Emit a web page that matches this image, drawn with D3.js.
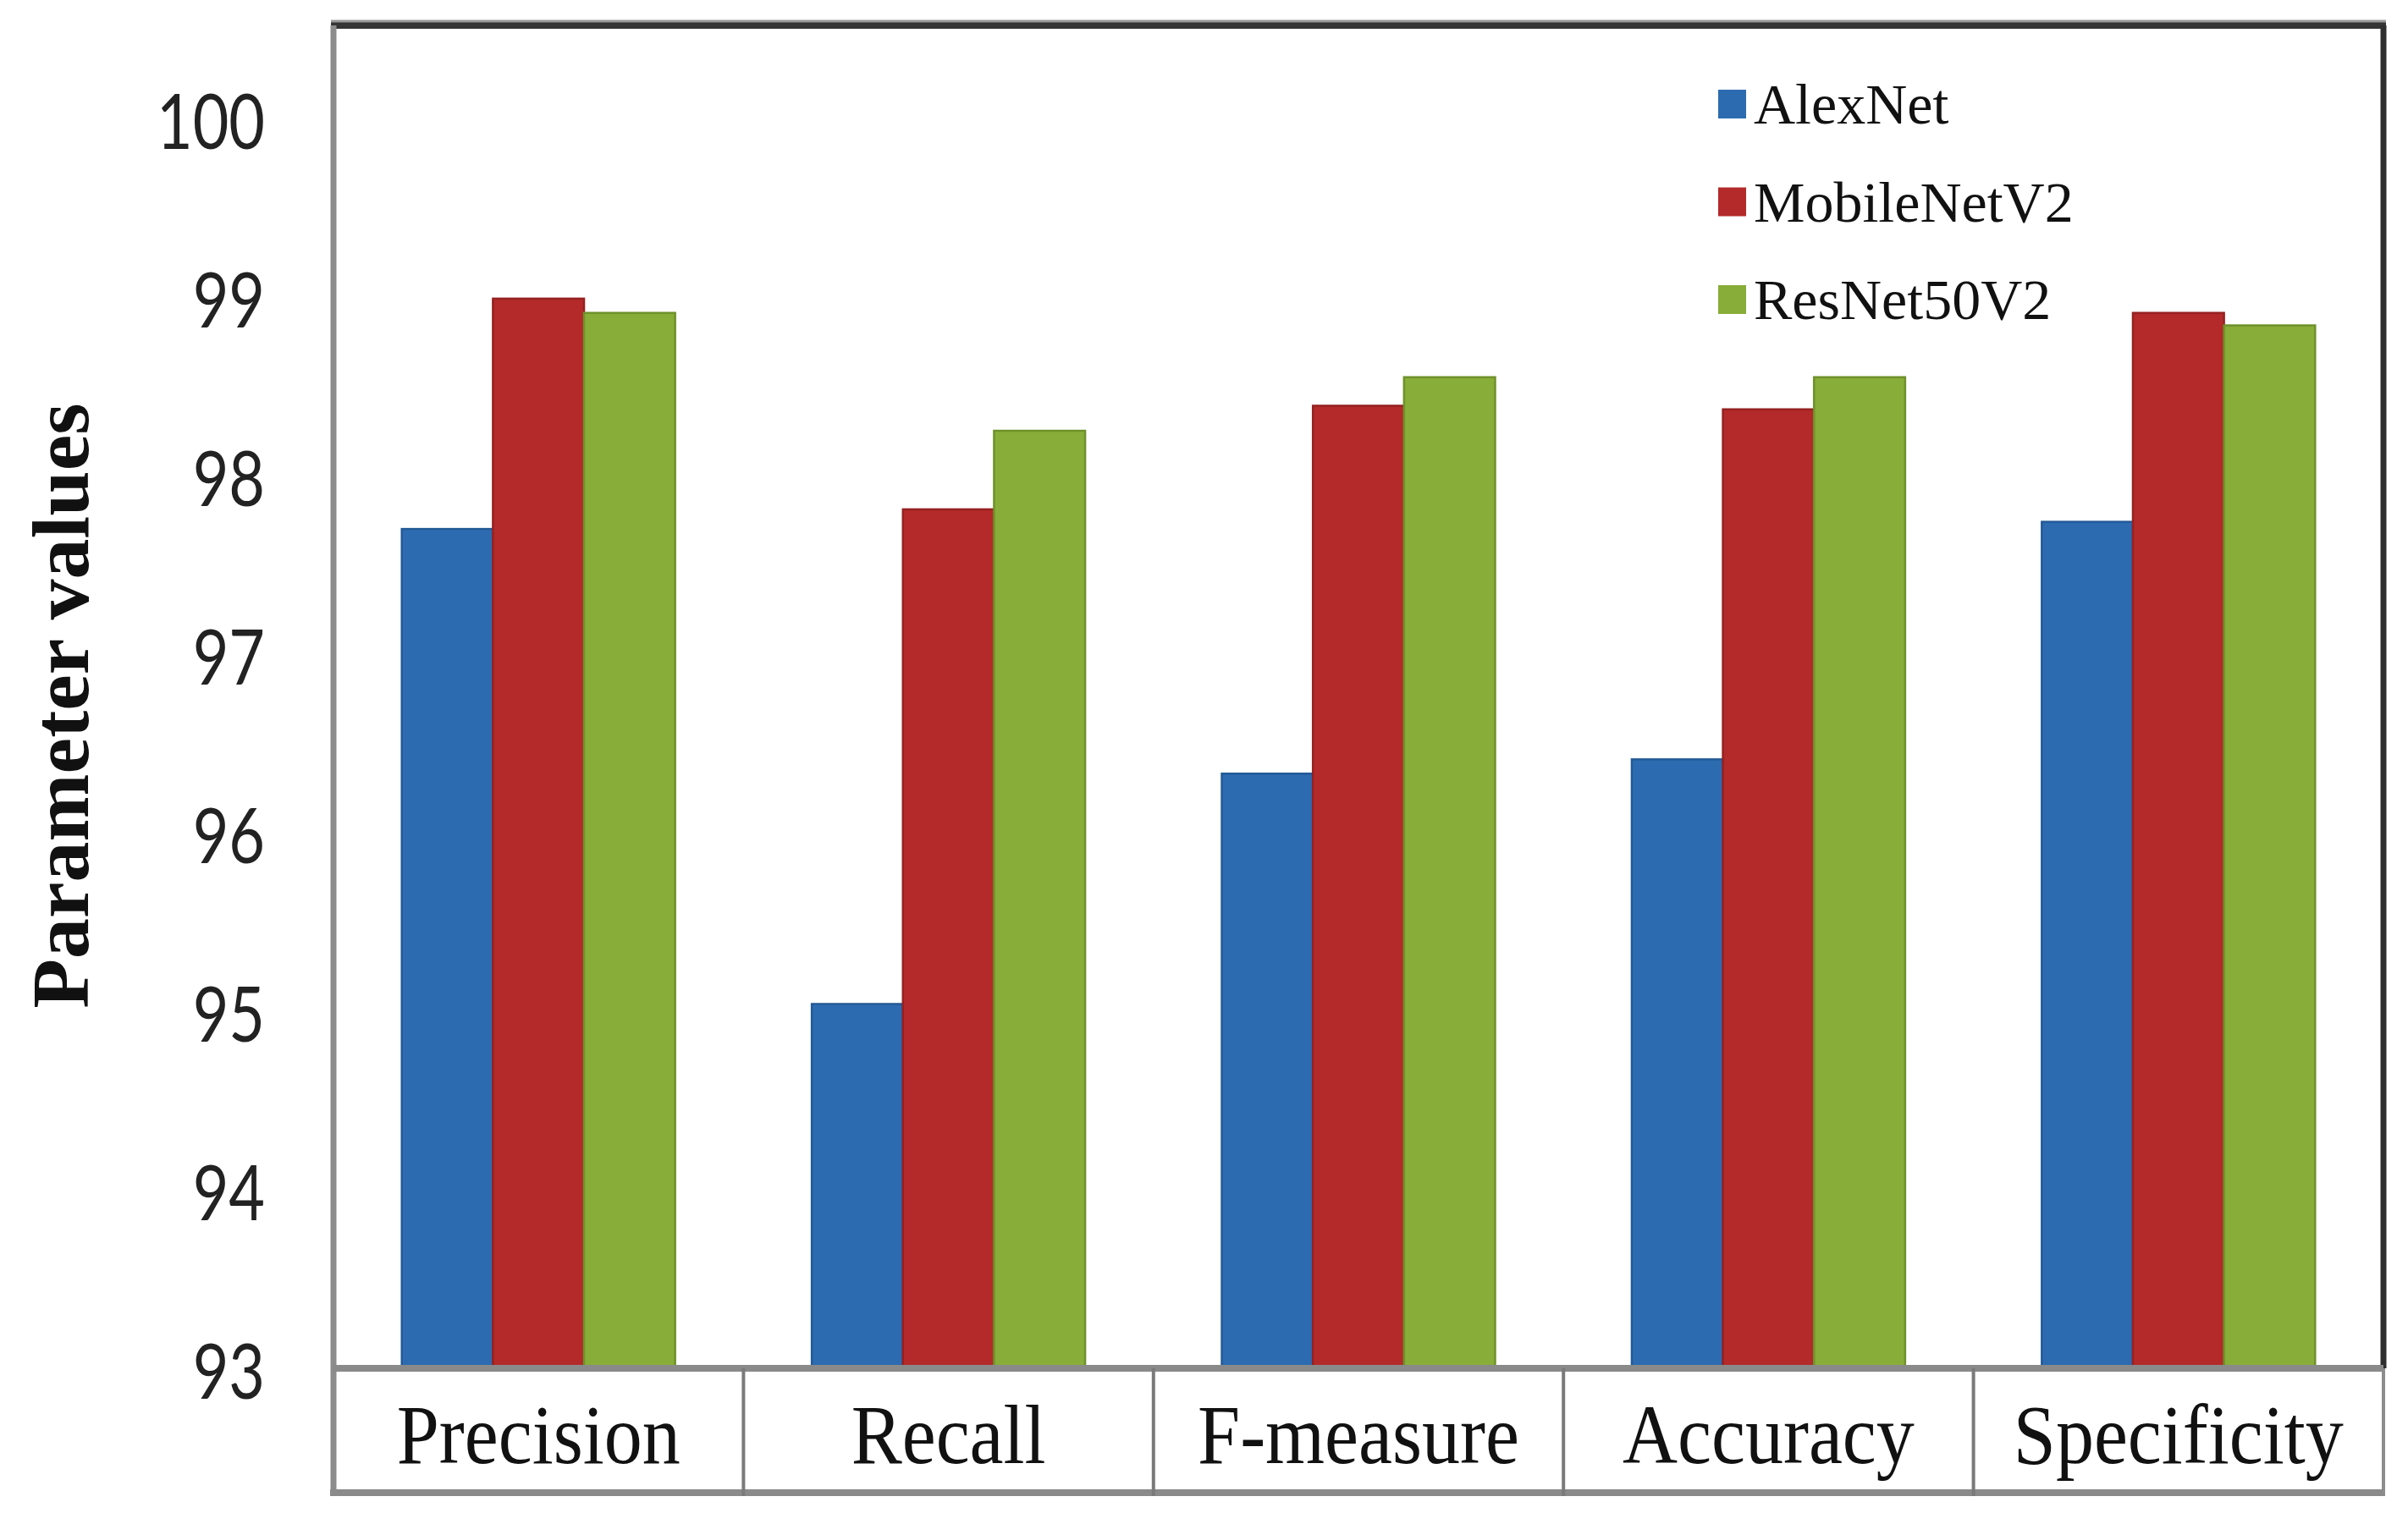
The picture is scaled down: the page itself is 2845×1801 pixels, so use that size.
<!DOCTYPE html>
<html>
<head>
<meta charset="utf-8">
<script src="https://cdn.jsdelivr.net/npm/d3@7"></script>
<style>
  html, body { margin: 0; padding: 0; background: #ffffff; }
  svg { display: block; }
</style>
</head>
<body>
<svg id="chart" width="2845" height="1801"></svg>
<script>
// ---- data ----
const categories = ["Precision", "Recall", "F-measure", "Accuracy", "Specificity"];
const seriesNames = ["AlexNet", "MobileNetV2", "ResNet50V2"];
const alexNet     = [97.70, 95.04, 96.33, 96.41, 97.74];
const mobileNetV2 = [98.99, 97.81, 98.39, 98.37, 98.91];
const resNet50V2  = [98.91, 98.25, 98.55, 98.55, 98.84];
const yTicks = [93, 94, 95, 96, 97, 98, 99, 100];
const yTitle = "Parameter values";

// ---- layout / style ----
const colors = { "AlexNet": "#2d6bb1", "MobileNetV2": "#b42a2a", "ResNet50V2": "#88ad39" };
const strokes = { "AlexNet": "#235a96", "MobileNetV2": "#962121", "ResNet50V2": "#6f912b" };
const L = 394, R = 2816, T = 30, B = 1617, TB = 1764;

const svg = d3.select("#chart");
svg.append("rect").attr("width", 2845).attr("height", 1801).attr("fill", "#fff");

const x0 = d3.scaleBand().domain(categories).range([L, R]).padding(0);
const x1 = d3.scaleBand().domain(seriesNames).range([0, x0.bandwidth()])
  .paddingInner(0).paddingOuter(0.75);
const y = d3.scaleLinear().domain([93, 100.52]).range([B, T]);

const valuesBySeries = { "AlexNet": alexNet, "MobileNetV2": mobileNetV2, "ResNet50V2": resNet50V2 };
const rows = [];
categories.forEach((c, i) => seriesNames.forEach(s => rows.push({ c, s, v: valuesBySeries[s][i] })));

// bars
svg.append("g").selectAll("rect").data(rows).join("rect")
  .attr("x", d => x0(d.c) + x1(d.s))
  .attr("y", d => y(d.v))
  .attr("width", x1.bandwidth())
  .attr("height", d => y(93) - y(d.v))
  .attr("fill", d => colors[d.s])
  .attr("stroke", d => strokes[d.s])
  .attr("stroke-width", 2.5);

// frame
const frame = svg.append("g");
frame.append("line").attr("x1", L - 3).attr("x2", R + 3).attr("y1", T).attr("y2", T)
  .attr("stroke", "#353535").attr("stroke-width", 8);
frame.append("line").attr("x1", L - 3).attr("x2", R + 3).attr("y1", T - 5).attr("y2", T - 5)
  .attr("stroke", "#9a9a9a").attr("stroke-width", 3);
frame.append("line").attr("x1", L).attr("x2", L).attr("y1", T).attr("y2", TB + 4)
  .attr("stroke", "#8c8c8c").attr("stroke-width", 7);
frame.append("line").attr("x1", R).attr("x2", R).attr("y1", T).attr("y2", B)
  .attr("stroke", "#2e2e2e").attr("stroke-width", 7);
frame.append("line").attr("x1", R).attr("x2", R).attr("y1", B).attr("y2", TB + 4)
  .attr("stroke", "#8c8c8c").attr("stroke-width", 4);
frame.append("line").attr("x1", L).attr("x2", R).attr("y1", B).attr("y2", B)
  .attr("stroke", "#8a8a8a").attr("stroke-width", 8);
frame.append("line").attr("x1", L - 4).attr("x2", R).attr("y1", TB).attr("y2", TB)
  .attr("stroke", "#8a8a8a").attr("stroke-width", 8);
// table dividers
frame.selectAll("line.div").data(categories.slice(1)).join("line")
  .attr("class", "div")
  .attr("x1", d => x0(d)).attr("x2", d => x0(d))
  .attr("y1", B).attr("y2", TB + 4)
  .attr("stroke", "#7a7a7a").attr("stroke-width", 4);

// category labels
svg.append("g").selectAll("text").data(categories).join("text")
  .attr("transform", d => `translate(${x0(d) + x0.bandwidth() / 2},1729) scale(0.9,1)`)
  .attr("text-anchor", "middle")
  .attr("font-family", "'Liberation Serif', 'Times New Roman', serif")
  .attr("font-size", 100)
  .attr("fill", "#111")
  .text(d => d);

// y axis
const yAxis = svg.append("g").attr("transform", `translate(${L},0)`)
  .call(d3.axisLeft(y).tickValues(yTicks).tickSize(0).tickPadding(81).tickFormat(d3.format("d")));
yAxis.select(".domain").remove();
yAxis.selectAll(".tick text")
  .attr("x", null).attr("dy", null)
  .attr("transform", "translate(-81,0) scale(0.8,1)")
  .attr("dominant-baseline", "central")
  .attr("text-anchor", "end")
  .attr("font-family", "Lato, 'Open Sans', sans-serif")
  .attr("font-size", 92)
  .attr("fill", "#222");

// y title
svg.append("text")
  .attr("transform", "translate(104,834) rotate(-90)")
  .attr("text-anchor", "middle")
  .attr("font-family", "'Liberation Serif', 'Times New Roman', serif")
  .attr("font-weight", "bold")
  .attr("font-size", 96)
  .attr("fill", "#111")
  .text(yTitle);

// legend
const legendY = d3.scalePoint().domain(seriesNames).range([123, 354]);
const lg = svg.append("g").selectAll("g").data(seriesNames).join("g")
  .attr("transform", d => `translate(2030,${legendY(d)})`);
lg.append("rect").attr("x", 0).attr("y", -17).attr("width", 33).attr("height", 34)
  .attr("fill", d => colors[d]);
lg.append("text").attr("x", 42).attr("y", 0)
  .attr("dominant-baseline", "central")
  .attr("font-family", "'Liberation Serif', 'Times New Roman', serif")
  .attr("font-size", 68)
  .attr("fill", "#111")
  .text(d => d);
</script>
</body>
</html>
